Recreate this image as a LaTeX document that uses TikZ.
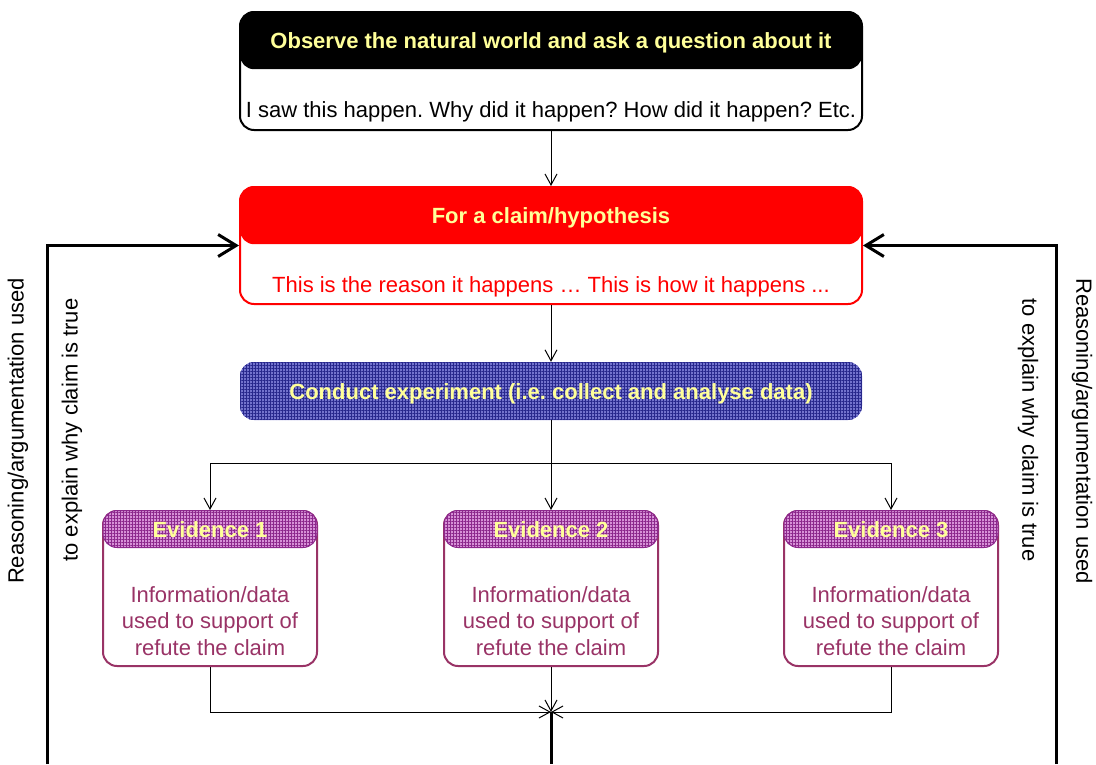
\documentclass[tikz,border=0pt]{standalone}
\usepackage{fontspec}
\setmainfont{Liberation Sans}
\usetikzlibrary{arrows.meta,patterns.meta}
\frenchspacing

\definecolor{headtext}{RGB}{255,255,153}
\definecolor{plum}{RGB}{153,51,102}
\definecolor{gridblue}{RGB}{40,40,140}
\definecolor{lightblue}{RGB}{115,115,205}
\definecolor{gridpurple}{RGB}{140,40,140}
\definecolor{lightpurple}{RGB}{215,145,215}

\tikzset{
  boxfont/.style={font=\fontsize{22}{26.5}\selectfont},
  outerbox/.style={draw, line width=2pt, rounded corners=14pt, minimum width=622pt},
  headbox/.style={rounded corners=14pt, minimum width=622pt, minimum height=58pt,
    text=headtext, font=\fontsize{22}{26.5}\selectfont\bfseries, anchor=north,
    text height=16pt, text depth=0pt},
  gridfill/.style={postaction={pattern={Lines[distance=3pt,angle=0,line width=0.7pt]}, pattern color=#1},
    postaction={pattern={Lines[distance=3pt,angle=90,line width=0.7pt]}, pattern color=#1}},
  thin/.style={line width=1pt, -{Straight Barb[length=11pt,width=12pt]}},
  thickarrow/.style={line width=3pt, -{Straight Barb[length=18pt,width=22pt]}},
  sidetext/.style={boxfont},
}

\begin{document}
\begin{tikzpicture}[x=1pt, y=-1pt]
    \useasboundingbox (0,0) rectangle (1096,764);

    % Observation box
    \node[outerbox, minimum height=118pt] (obs) at (551,71) {};
    \node[headbox, fill=black] (obshead) at (obs.north) {Observe the natural world and ask a question about it};
    \node[boxfont] (obstext) at (551,112) {I saw this happen. Why did it happen? How did it happen? Etc.};

    % Claim box
    \node[outerbox, draw=red, minimum height=117pt] (claim) at (551,245.5) {};
    \node[headbox, fill=red] (claimhead) at (claim.north) {For a claim/hypothesis};
    \node[boxfont, text=red] (claimtext) at (551,287) {This is the reason it happens … This is how it happens ...};

    % Experiment box
    \node[headbox, anchor=center, fill=lightblue, gridfill=gridblue] (exp) at (551,391)
        {Conduct experiment (i.e. collect and analyse data)};

    % Evidence boxes
    \foreach \i/\xx in {1/210, 2/551, 3/891} {
        \node[outerbox, draw=plum, minimum width=214pt, minimum height=155pt] (ev\i) at (\xx,588.5) {};
        \node[headbox, minimum width=214pt, minimum height=37pt, fill=lightpurple, draw=gridpurple,
              line width=1pt, gridfill=gridpurple] (evhead\i) at (ev\i.north) {Evidence \i};
        \node[boxfont, text=plum, align=center] (evtext\i) at (\xx,621)
            {Information/data\\used to support of\\refute the claim};
    }

    % Connectors
    \coordinate (split) at (551,463);
    \coordinate (join) at (551,712);
    \draw[thin] (obs.south) -- (claim.north);
    \draw[thin] (claim.south) -- (exp.north);
    \draw[thin] (exp.south) -- (ev2.north);
    \draw[thin] (split) -| (ev1.north);
    \draw[thin] (split) -| (ev3.north);
    \draw[thin] (ev1.south) |- (join);
    \draw[thin] (ev3.south) |- (join);
    \draw[thin] (ev2.south) -- (join);

    % Reasoning loops back to the claim
    \coordinate (bottom) at (551,764);
    \coordinate (leftfoot) at (47,764);
    \coordinate (rightfoot) at (1056,764);
    \draw[line width=3pt] (join) -- (bottom);
    \draw[thickarrow] (leftfoot) |- (claim.west);
    \draw[thickarrow] (rightfoot) |- (claim.east);

    % Side labels
    \node[sidetext, rotate=90] (lefta) at (18,431) {Reasoning/argumentation used};
    \node[sidetext, rotate=90] (leftb) at (72,430) {to explain why claim is true};
    \node[sidetext, rotate=-90] (righta) at (1082,431) {Reasoning/argumentation used};
    \node[sidetext, rotate=-90] (rightb) at (1028,430) {to explain why claim is true};
\end{tikzpicture}
\end{document}
